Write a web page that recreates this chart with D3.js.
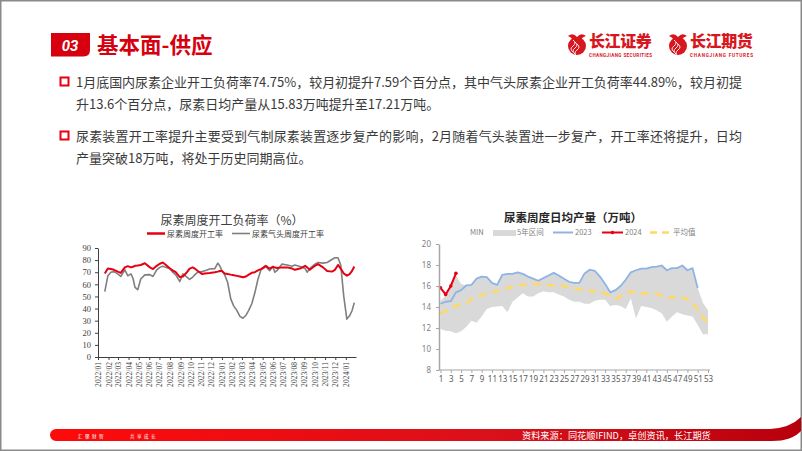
<!DOCTYPE html>
<html>
<head>
<meta charset="utf-8">
<script src="https://cdn.jsdelivr.net/npm/d3@7"></script>
<style>
  body { margin: 0; background: #fff; }
  svg { display: block; font-family: "Noto Sans CJK SC", "Noto Sans", sans-serif; }
</style>
</head>
<body>
<svg id="page" width="802" height="451"></svg>
<script>
// ---- text ----
const pageTitle = '基本面-供应';
const bulletLines = [
  '1月底国内尿素企业开工负荷率74.75%，较月初提升7.59个百分点，其中气头尿素企业开工负荷率44.89%，较月初提',
  '升13.6个百分点，尿素日均产量从15.83万吨提升至17.21万吨。',
  '尿素装置开工率提升主要受到气制尿素装置逐步复产的影响，2月随着气头装置进一步复产，开工率还将提升，日均',
  '产量突破18万吨，将处于历史同期高位。'
];
const sourceText = '资料来源：同花顺IFIND，卓创资讯，长江期货';

// ---- left chart: weekly operating rate (%) ----
const rateDates = [
  '2022-01-21','2022-01-30','2022-02-08','2022-02-17','2022-02-28','2022-03-09','2022-03-21','2022-03-30',
  '2022-04-08','2022-04-14','2022-04-20','2022-04-28','2022-05-07','2022-05-19','2022-06-03','2022-06-12',
  '2022-06-23','2022-07-02','2022-07-11','2022-07-20','2022-08-01','2022-08-09','2022-08-18','2022-08-30',
  '2022-09-08','2022-09-20','2022-09-28','2022-10-07','2022-10-13','2022-10-22','2022-11-03','2022-11-12',
  '2022-11-26','2022-12-11','2022-12-20','2022-12-26','2023-01-01','2023-01-09','2023-01-18','2023-01-27',
  '2023-02-05','2023-02-14','2023-02-23','2023-03-04','2023-03-13','2023-03-21','2023-03-30','2023-04-08',
  '2023-04-17','2023-04-26','2023-05-04','2023-05-10','2023-05-16','2023-05-22','2023-05-31','2023-06-06',
  '2023-06-12','2023-06-27','2023-07-12','2023-07-27','2023-08-04','2023-08-19','2023-09-03','2023-09-09',
  '2023-09-17','2023-10-02','2023-10-11','2023-10-26','2023-11-07','2023-11-21','2023-11-30','2023-12-09',
  '2023-12-17','2023-12-26','2024-01-04','2024-01-12','2024-01-19','2024-01-26'
];
const rateTotal = [
  69, 73, 72.6, 72, 70.5, 69.4, 74, 75,
  74, 74.5, 75.3, 75.5, 76, 77.4, 74, 72.6,
  75.3, 77, 78, 76, 73, 71.5, 70, 66,
  66.5, 70, 73, 74, 73, 71, 68.6, 69,
  69.4, 70, 70.5, 71, 71, 69, 68.6, 68,
  67.5, 67, 66.5, 65.8, 66.5, 68, 69.5, 70,
  71.5, 72.6, 74, 75.3, 74, 73, 74.5, 74,
  73.5, 74, 74, 73, 72, 73, 75.3, 74,
  72, 75.3, 76.7, 74, 71, 70.5, 72, 76,
  73, 69, 67.16, 68.5, 71, 74.75
];
const rateGas = [
  54, 67, 70, 70.5, 68.6, 66.5, 72, 67,
  68.6, 65, 57.5, 55.6, 64.4, 67.8, 68, 66.5,
  72, 74, 75, 74, 73, 70, 67.8, 62.3,
  68.6, 66, 64, 66, 67.8, 70, 70.5, 71.3,
  72.6, 73, 77.5, 75, 71.3, 68, 61.5, 48,
  42, 38.5, 33.5, 32, 34.5, 38.5, 44, 53,
  64, 72, 73.5, 74.7, 73, 71.3, 74.7, 70,
  71.3, 76.7, 76, 75, 76, 74.7, 73, 70,
  73, 76.7, 78, 77.5, 78, 80.5, 82, 82,
  76, 50, 31.29, 34, 38, 44.89
];
const rateTicks = [0, 10, 20, 30, 40, 50, 60, 70, 80, 90];

// ---- right chart: weekly daily output (10k t) ----
const weekNums = [1,2,3,4,5,6,7,8,9,10,11,12,13,14,15,16,17,18,19,20,21,22,23,24,25,26,27,
  28,29,30,31,32,33,34,35,36,37,38,39,40,41,42,43,44,45,46,47,48,49,50,51,52,53];
const outMin = [
  11.9, 11.75, 11.7, 11.5, 11.7, 12.1, 12.7, 12.5, 13.1, 13.8,
  14.0, 14.05, 14.1, 13.5, 14.5, 14.9, 15.3, 15.0, 15.0, 15.3,
  15.5, 15.4, 15.4, 15.2, 15.0, 14.7, 14.5, 14.5, 14.3, 14.3,
  14.6, 14.7, 14.7, 14.1, 14.2, 14.1, 13.8, 14.8, 12.9, 14.1,
  14.0, 13.9, 13.7, 13.4, 12.6, 13.1, 13.5, 13.3, 13.2, 13.1,
  12.3, 11.4, 11.4
];
const outMax = [
  14.6, 15.1, 16.2, 17.0, 16.2, 16.05, 16.1, 16.7, 16.9, 16.85,
  16.3, 16.1, 17.05, 17.15, 17.15, 17.3, 17.15, 16.9, 16.7, 16.5,
  16.75, 17.0, 17.25, 17.0, 16.7, 16.4, 16.3, 16.3, 17.2, 17.55,
  17.45, 16.9, 16.2, 15.4, 15.6, 16.0, 16.6, 17.3, 17.5, 17.65,
  17.65, 17.8, 17.85, 17.95, 17.5, 17.7, 17.7, 17.95, 17.5, 17.7,
  15.8, 14.4, 13.7
];
const outAvg = [
  13.4, 13.6, 13.9, 14.1, 14.3, 14.4, 14.7, 15.0, 15.1, 15.3,
  15.45, 15.5, 15.6, 15.8, 15.9, 16.0, 16.1, 16.15, 16.2, 16.2,
  16.15, 16.1, 16.05, 16.05, 16.0, 15.9, 15.8, 15.7, 15.6, 15.55,
  15.5, 15.4, 15.3, 15.0, 14.8, 15.0, 15.3, 15.5, 15.4, 15.3,
  15.3, 15.3, 15.25, 15.1, 14.85, 14.9, 14.95, 14.9, 14.75, 14.5,
  13.7, 13.0, 12.5
];
const out2023 = [
  14.31, 14.5, 14.55, 15.4, 15.6, 16.05, 16.1, 16.7, 16.9, 16.85,
  16.3, 16.1, 17.05, 17.15, 17.15, 17.3, 17.15, 16.9, 16.7, 16.5,
  16.75, 17.0, 17.25, 17.0, 16.7, 16.4, 16.3, 16.3, 17.2, 17.55,
  17.45, 16.9, 16.2, 15.4, 15.6, 16.0, 16.6, 17.3, 17.5, 17.65,
  17.65, 17.8, 17.85, 17.95, 17.5, 17.7, 17.7, 17.95, 17.5, 17.7,
  15.8
];
const out2024 = [15.83, 15.2, 16.0, 17.21];
const outTicks = [8, 10, 12, 14, 16, 18, 20];

const RED = '#e60012';
const svg = d3.select('#page');

// ---- page frame & header ----
svg.append('rect').attr('x', 0.75).attr('y', 0.75).attr('width', 800.5).attr('height', 449.5)
  .attr('fill', '#fff').attr('stroke', '#8a8a8a').attr('stroke-width', 1.5);

svg.append('path').attr('d', 'M51,33H90V50Q90,56.5 83.5,56.5H51Z').attr('fill', '#d7000f');
svg.append('text').attr('x', 70).attr('y', 50.5).attr('text-anchor', 'middle')
  .attr('fill', '#fff').attr('font-size', 15).attr('font-weight', 700).attr('font-style', 'italic')
  .attr('font-family', 'Roboto, sans-serif').text('03');
svg.append('text').attr('x', 97).attr('y', 52.5).attr('fill', '#d7000f')
  .attr('font-size', 21.5).attr('font-weight', 700).text(pageTitle);

// logos
const logos = [{x: 577, name: '长江证券', sub: 'CHANGJIANG SECURITIES'}, {x: 678, name: '长江期货', sub: 'CHANGJIANG FUTURES'}];
logos.forEach(l => {
  const g = svg.append('g');
  g.append('circle').attr('cx', l.x).attr('cy', 46).attr('r', 9).attr('fill', '#d7161e');
  g.append('path').attr('d', `M${l.x - 9},36 q5,-4 9,1 q4,-5 9,-1 q-4,1 -5,4 q-4,-3 -8,0 q-2,-3 -5,-4z`).attr('fill', '#d7161e');
  [0, 1, 2].forEach(k => g.append('path')
    .attr('d', `M${l.x - 4 + k * 2},${40 + k * 2} q4,3 0,6 q-4,3 0,6`)
    .attr('fill', 'none').attr('stroke', '#fff').attr('stroke-width', 0.9));
  g.append('text').attr('x', l.x + 12).attr('y', 47).attr('fill', '#d7161e')
    .attr('font-size', 16).attr('font-weight', 900).attr('letter-spacing', -0.4).text(l.name);
  g.append('text').attr('x', l.x + 12).attr('y', 56.5).attr('fill', '#d7161e')
    .attr('font-size', 4.6).attr('font-weight', 700).attr('font-family', 'Roboto, sans-serif')
    .attr('textLength', 63).text(l.sub);
});

// ---- bullets ----
const lineY = [87, 109, 141, 163];
const fullLine = [true, false, true, false];
[0, 2].forEach(i => {
  svg.append('rect').attr('x', 60.5).attr('y', lineY[i] - 9.5).attr('width', 8).attr('height', 8)
    .attr('fill', '#fff').attr('stroke', '#e60012').attr('stroke-width', 2);
});
bulletLines.forEach((t, i) => {
  const tx = svg.append('text').attr('x', 76).attr('y', lineY[i])
    .attr('fill', '#3a3a3a').attr('font-size', 13).text(t);
  if (fullLine[i]) tx.attr('textLength', 666).attr('lengthAdjust', 'spacing');
});

// ---- left chart ----
const parse = d3.timeParse('%Y-%m-%d');
const rateData = rateDates.map((d, i) => ({date: parse(d), total: rateTotal[i], gas: rateGas[i]}));

const lx = d3.scaleTime().domain([parse('2022-01-01'), parse('2024-01-31')]).range([98, 356]);
const ly = d3.scaleLinear().domain([0, 90]).range([357, 248]);

const left = svg.append('g');
left.append('text').attr('x', 232).attr('y', 224.5).attr('text-anchor', 'middle')
  .attr('fill', '#404040').attr('font-size', 12).text('尿素周度开工负荷率（%）');

const leftLegend = [
  {x: 147, color: RED, w: 2.5, label: '尿素周度开工率'},
  {x: 232, color: '#7f7f7f', w: 1.6, label: '尿素气头周度开工率'}
];
leftLegend.forEach(l => {
  left.append('line').attr('x1', l.x).attr('x2', l.x + 18).attr('y1', 233.5).attr('y2', 233.5)
    .attr('stroke', l.color).attr('stroke-width', l.w);
  left.append('text').attr('x', l.x + 20).attr('y', 236.5).attr('fill', '#404040')
    .attr('font-size', 8).text(l.label);
});

left.append('g').attr('transform', 'translate(98,0)')
  .call(d3.axisLeft(ly).tickValues(rateTicks).tickSize(3).tickSizeOuter(0))
  .call(g => g.select('.domain').attr('stroke', '#404040'))
  .call(g => g.selectAll('.tick line').attr('stroke', '#404040'))
  .call(g => g.selectAll('text').attr('fill', '#404040').attr('x', -7))
  .attr('font-family', '"Liberation Serif", serif').attr('font-size', 8.5);

left.append('g').attr('transform', 'translate(0,357)')
  .call(d3.axisBottom(lx).ticks(d3.timeMonth.every(1)).tickFormat(d3.timeFormat('%Y/%m')).tickSize(3).tickSizeOuter(0))
  .call(g => g.select('.domain').attr('stroke', '#404040'))
  .call(g => g.selectAll('.tick line').attr('stroke', '#404040'))
  .call(g => g.selectAll('text').attr('fill', '#404040')
    .attr('transform', 'rotate(-90)').attr('x', -5).attr('y', 0).attr('dy', '0.33em')
    .style('text-anchor', 'end'))
  .attr('font-family', '"Liberation Serif", serif').attr('font-size', 7.6);

const rateLine = key => d3.line().x(d => lx(d.date)).y(d => ly(d[key]));
left.append('path').datum(rateData).attr('d', rateLine('gas'))
  .attr('fill', 'none').attr('stroke', '#7f7f7f').attr('stroke-width', 1.6).attr('stroke-linejoin', 'round');
left.append('path').datum(rateData).attr('d', rateLine('total'))
  .attr('fill', 'none').attr('stroke', RED).attr('stroke-width', 2).attr('stroke-linejoin', 'round');

// ---- right chart ----
const rx = d3.scalePoint().domain(weekNums).range([440.5, 708]);
const ry = d3.scaleLinear().domain([8, 20]).range([370, 244]);
const right = svg.append('g');

right.append('text').attr('x', 573).attr('y', 222).attr('text-anchor', 'middle')
  .attr('fill', '#262626').attr('font-size', 11.5).attr('font-weight', 700).text('尿素周度日均产量（万吨）');

// legend
const lg = right.append('g').attr('font-size', 7.5).attr('fill', '#7f7f7f');
lg.append('text').attr('x', 470).attr('y', 235).text('MIN');
lg.append('rect').attr('x', 493).attr('y', 230).attr('width', 23).attr('height', 6).attr('fill', '#d9d9d9');
lg.append('text').attr('x', 517).attr('y', 235).text('5年区间');
lg.append('line').attr('x1', 553).attr('x2', 573).attr('y1', 232.5).attr('y2', 232.5)
  .attr('stroke', '#8eb4e3').attr('stroke-width', 2);
lg.append('text').attr('x', 575).attr('y', 235).text('2023');
lg.append('line').attr('x1', 602).attr('x2', 623).attr('y1', 232.5).attr('y2', 232.5)
  .attr('stroke', RED).attr('stroke-width', 2);
lg.append('circle').attr('cx', 612.5).attr('cy', 232.5).attr('r', 1.8).attr('fill', RED);
lg.append('text').attr('x', 625).attr('y', 235).text('2024');
lg.append('line').attr('x1', 650).attr('x2', 670).attr('y1', 232.5).attr('y2', 232.5)
  .attr('stroke', '#ffd966').attr('stroke-width', 2.5).attr('stroke-dasharray', '7,5');
lg.append('text').attr('x', 673).attr('y', 235).text('平均值');

// 5-year band
right.append('path').datum(weekNums)
  .attr('d', d3.area().x(w => rx(w)).y0((w, i) => ry(outMin[i])).y1((w, i) => ry(outMax[i])))
  .attr('fill', '#d9d9d9');

right.append('path').datum(outAvg)
  .attr('d', d3.line().x((v, i) => rx(weekNums[i])).y(v => ry(v)))
  .attr('fill', 'none').attr('stroke', '#ffd966').attr('stroke-width', 2.6).attr('stroke-dasharray', '8,6');

right.append('path').datum(out2023)
  .attr('d', d3.line().x((v, i) => rx(weekNums[i])).y(v => ry(v)))
  .attr('fill', 'none').attr('stroke', '#8eb4e3').attr('stroke-width', 1.8).attr('stroke-linejoin', 'round');

right.append('path').datum(out2024)
  .attr('d', d3.line().x((v, i) => rx(weekNums[i])).y(v => ry(v)))
  .attr('fill', 'none').attr('stroke', RED).attr('stroke-width', 2);
right.selectAll('.p24').data(out2024).join('circle').attr('class', 'p24')
  .attr('cx', (v, i) => rx(weekNums[i])).attr('cy', v => ry(v)).attr('r', 1.8).attr('fill', RED);

right.append('g').attr('transform', 'translate(439,0)')
  .call(d3.axisLeft(ry).tickValues(outTicks).tickSize(3).tickSizeOuter(0))
  .call(g => g.select('.domain').attr('stroke', '#a6a6a6').attr('stroke-width', 1.5))
  .call(g => g.selectAll('.tick line').attr('stroke', '#a6a6a6'))
  .call(g => g.selectAll('text').attr('fill', '#7f7f7f').attr('x', -8))
  .attr('font-family', '"Noto Sans", sans-serif').attr('font-size', 8);

right.append('g').attr('transform', 'translate(0,370)')
  .call(d3.axisBottom(rx).tickValues(weekNums.filter(w => w % 2 === 1)).tickSize(3).tickSizeOuter(0))
  .call(g => g.select('.domain').attr('stroke', '#a6a6a6').attr('stroke-width', 1.2).attr('d', 'M439,0H710'))
  .call(g => g.selectAll('.tick line').attr('stroke', '#a6a6a6'))
  .call(g => g.selectAll('text').attr('fill', '#595959').attr('y', 6))
  .attr('font-family', '"Noto Sans", sans-serif').attr('font-size', 8);

// ---- footer ----
const defs = svg.append('defs');
const grad = defs.append('linearGradient').attr('id', 'foot').attr('x1', 0).attr('x2', 1);
grad.append('stop').attr('offset', 0).attr('stop-color', '#ff0a0a');
grad.append('stop').attr('offset', 0.6).attr('stop-color', '#d9101a');
grad.append('stop').attr('offset', 1).attr('stop-color', '#b8000d');
svg.append('path')
  .attr('d', 'M56,429H770Q790,428 801,417V431Q792,441 772,441H56A6,6 0 0 1 56,429Z')
  .attr('fill', 'url(#foot)');
svg.append('text').attr('x', 78).attr('y', 437.5).attr('fill', '#fff').attr('font-size', 4.5)
  .attr('letter-spacing', 2.5).text('汇聚财智');
svg.append('text').attr('x', 130).attr('y', 437.5).attr('fill', '#fff').attr('font-size', 4.5)
  .attr('letter-spacing', 2.5).text('共享成长');
svg.append('text').attr('x', 522).attr('y', 439).attr('fill', '#fff').attr('font-size', 9.2)
  .text(sourceText);
</script>
</body>
</html>
